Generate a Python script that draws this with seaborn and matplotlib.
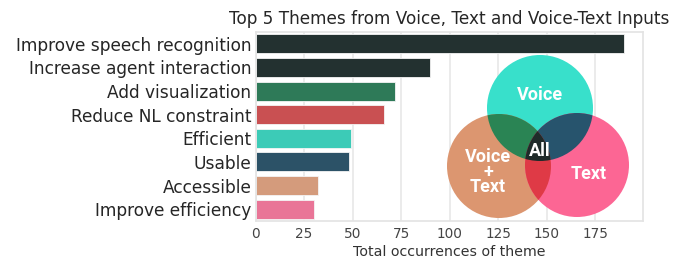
import numpy as np
import matplotlib
matplotlib.use("Agg")
import matplotlib.pyplot as plt
import seaborn as sns
from matplotlib.patches import Circle, Polygon

themes = ["Improve speech recognition", "Increase agent interaction", "Add visualization",
          "Reduce NL constraint", "Efficient", "Usable", "Accessible", "Improve efficiency"]
counts = [190, 90, 72, 66, 49, 48, 32, 30]
bar_colors = ["#233130", "#233130", "#2E7A58", "#C95052", "#3CCBB7", "#2C5267", "#D49B7C", "#E97597"]

venn_sets = ["Voice", "Voice\n+\nText", "Text"]
venn_colors = {"Voice": "#38E0CB", "VT": "#DC9670", "Text": "#FC6694",
               "Voice&VT": "#2A8454", "Voice&Text": "#27546D", "VT&Text": "#DF3A46",
               "All": "#1F2B2A"}

sns.set_theme(style="whitegrid")
plt.rcParams['font.family'] = ['DejaVu Sans']

W, H = 687, 258
fig = plt.figure(figsize=(W / 100, H / 100), dpi=100)
ax = fig.add_axes([255.5 / W, 37 / H, (642.7 - 255.5) / W, (221 - 32) / H])

sns.barplot(x=counts, y=themes, hue=themes, palette=bar_colors, legend=False,
            saturation=1, ax=ax, edgecolor="#f4f4f4", linewidth=0.6, orient="h")
ax.set_xlim(0, 199.5)
ax.set_xticks([0, 25, 50, 75, 100, 125, 150, 175])
ax.tick_params(axis="y", labelsize=12.25, labelcolor="#262626", length=0, pad=3)
ax.tick_params(axis="x", labelsize=9.8, labelcolor="#444444", length=0, pad=4)
ax.set_xlabel("Total occurrences of theme", fontsize=10.2, color="#333333", labelpad=3)
ax.set_ylabel("")
ax.set_title("Top 5 Themes from Voice, Text and Voice-Text Inputs", fontsize=12.2,
             color="#262626", pad=6)
ax.xaxis.grid(True, color="#e8e8e8", linewidth=1.2)
ax.yaxis.grid(False)
for s in ax.spines.values():
    s.set_color("#e3e3e3")
    s.set_linewidth(1.2)

# Venn diagram overlay (decorative, in pixel coordinates)
ov = fig.add_axes([0, 0, 1, 1])
ov.set_xlim(0, W)
ov.set_ylim(H, 0)
ov.axis("off")
ov.patch.set_alpha(0)

centers = {"Voice": (540, 108), "VT": (499, 166), "Text": (577, 165)}
radii = {"Voice": 53, "VT": 52, "Text": 52}

def circ(key, color, z):
    return Circle(centers[key], radii[key], facecolor=color, edgecolor="none",
                  transform=ov.transData, zorder=z, antialiased=True)

for k in ["Voice", "VT", "Text"]:
    ov.add_patch(circ(k, venn_colors[k], 1))

for a, b, name in [("Voice", "VT", "Voice&VT"), ("Voice", "Text", "Voice&Text"), ("VT", "Text", "VT&Text")]:
    p = circ(a, venn_colors[name], 2)
    ov.add_patch(p)
    p.set_clip_path(circ(b, "none", 0))

def inside(pt, key):
    cx, cy = centers[key]
    return (pt[0] - cx) ** 2 + (pt[1] - cy) ** 2 <= radii[key] ** 2 + 1e-6

t = np.linspace(0, 2 * np.pi, 720)
pts = []
for k, o in [("VT", "Text"), ("Text", "VT")]:
    cx, cy = centers[k]
    for ang in t:
        pt = (cx + radii[k] * np.cos(ang), cy + radii[k] * np.sin(ang))
        if inside(pt, o):
            pts.append(pt)
pts = np.array(pts)
m = pts.mean(axis=0)
order = np.argsort(np.arctan2(pts[:, 1] - m[1], pts[:, 0] - m[0]))
poly = Polygon(pts[order], closed=True, transform=ov.transData, facecolor="none", edgecolor="none")
pall = circ("Voice", venn_colors["All"], 3)
ov.add_patch(pall)
pall.set_clip_path(poly)

tf = dict(color="white", fontweight="bold", family=["Roboto", "DejaVu Sans"], fontsize=13,
          ha="center", va="center", zorder=5)
ov.text(540, 95, venn_sets[0], **tf)
ov.text(540, 151, "All", **tf)
ov.text(488, 172, venn_sets[1], linespacing=0.8, **tf)
ov.text(589, 174, venn_sets[2], **tf)

fig.savefig("out.png", dpi=100)
